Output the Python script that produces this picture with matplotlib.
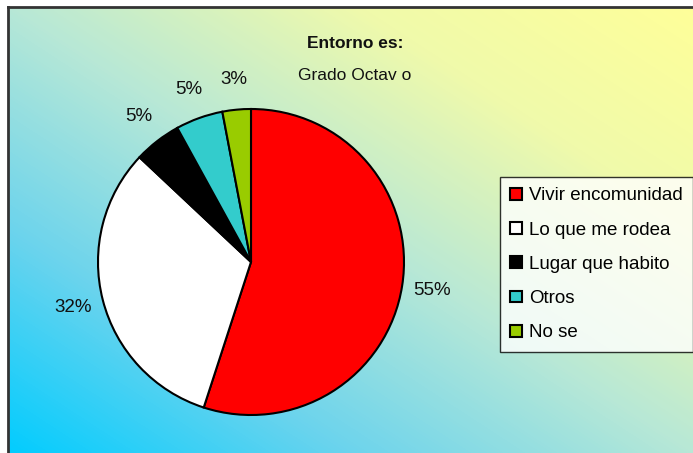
import numpy as np
import matplotlib.pyplot as plt
from matplotlib.colors import LinearSegmentedColormap
from matplotlib.patches import Rectangle

plt.rcParams['font.family'] = ['Liberation Sans', 'DejaVu Sans']

categorias = ['Vivir encomunidad', 'Lo que me rodea', 'Lugar que habito', 'Otros', 'No se']
valores = [55, 32, 5, 5, 3]
colores = ['#FF0000', '#FFFFFF', '#000000', '#33CCCC', '#99CC00']

fig = plt.figure(figsize=(6.93, 4.53), dpi=100)

# fondo degradado (cian abajo-izquierda, amarillo arriba-derecha)
bg = fig.add_axes([0, 0, 1, 1], zorder=0)
W, H = 693, 453
xx, yy = np.meshgrid(np.linspace(0, 1, W), np.linspace(0, 1, H))
t = (xx + (1 - yy)) / 2
cmap = LinearSegmentedColormap.from_list('fondo', [
    (0.0, (0.0, 0.80, 1.0)),
    (0.25, (0.42, 0.83, 0.93)),
    (0.5, (0.72, 0.91, 0.84)),
    (0.75, (0.94, 0.98, 0.67)),
    (1.0, (1.0, 1.0, 0.6)),
])
bg.imshow(t, cmap=cmap, aspect='auto', extent=[0, 1, 0, 1], origin='upper')
bg.add_patch(Rectangle((0, 0), 8 / W, 1, transform=bg.transAxes, color='white', zorder=3))
bg.add_patch(Rectangle((0, 1 - 7 / H), 1, 7 / H, transform=bg.transAxes, color='white', zorder=3))
bg.plot([8 / W, 8 / W], [0, 1 - 7 / H], color='#333333', lw=2, zorder=4)
bg.plot([8 / W, 1], [1 - 7 / H, 1 - 7 / H], color='#333333', lw=2, zorder=4)
bg.set_xlim(0, 1)
bg.set_ylim(0, 1)
bg.axis('off')

# pastel
r = 153
cx, cy = 251, 262
ax = fig.add_axes([(cx - r) / W, (H - cy - r) / H, 2 * r / W, 2 * r / H], zorder=1)
wedges, textos, pcts = ax.pie(
    valores, colors=colores, startangle=90, counterclock=False,
    autopct='%1.0f%%', pctdistance=1.2, labels=None,
    wedgeprops=dict(edgecolor='black', linewidth=1.5),
    textprops=dict(fontsize=13.5, color='#111111'))
ax.set_xlim(-1, 1)
ax.set_ylim(-1, 1)
ax.set_aspect('equal')
ax.axis('off')

fig.text(355 / W, 1 - 44 / H, 'Entorno es:', ha='center', va='center',
         fontsize=12.5, fontweight='bold', color='#111111')
fig.text(355 / W, 1 - 76 / H, 'Grado Octav o', ha='center', va='center',
         fontsize=12.5, color='#111111')

leg = fig.legend(wedges, categorias, loc='upper left',
                 bbox_to_anchor=(500 / W, 1 - 177 / H), fontsize=13.5,
                 frameon=True, fancybox=False, edgecolor='black',
                 handlelength=0.6, handleheight=0.6, handletextpad=0.4,
                 labelspacing=0.92, borderpad=0.55, borderaxespad=0)
leg.get_frame().set_linewidth(1.0)
leg.set_zorder(5)

fig.savefig('out.png', dpi=100)
